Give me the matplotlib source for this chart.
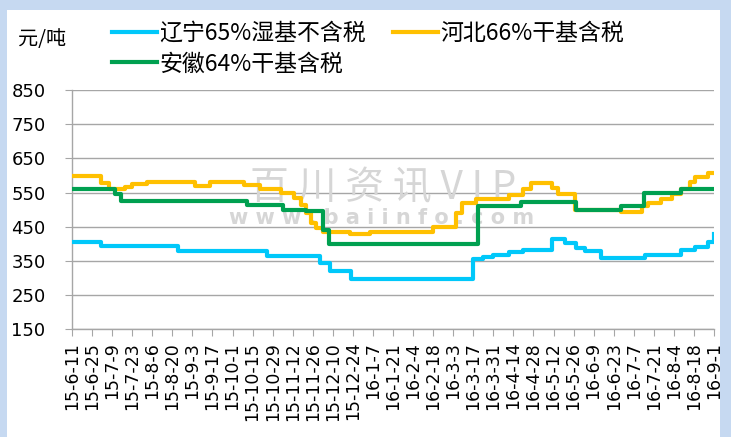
import datetime as dt
import matplotlib
matplotlib.use('Agg')
import matplotlib.pyplot as plt
from matplotlib.patches import Rectangle

# weekly price change points (date, yuan/ton)
liaoning_dates = ['2015-06-11', '2015-07-01', '2015-08-24', '2015-10-25', '2015-12-01',
                  '2015-12-08', '2015-12-23', '2016-03-17', '2016-03-24', '2016-03-31',
                  '2016-04-11', '2016-04-21', '2016-05-11', '2016-05-20', '2016-05-28',
                  '2016-06-03', '2016-06-14', '2016-07-15', '2016-08-09', '2016-08-19',
                  '2016-08-28', '2016-09-01']
liaoning_vals = [405, 395, 380, 363, 345, 320, 296, 355, 362, 368,
                 376, 383, 413, 403, 388, 378, 360, 366, 381, 391,
                 405, 430]

hebei_dates = ['2015-06-11', '2015-07-01', '2015-07-07', '2015-07-18', '2015-07-23',
               '2015-08-02', '2015-09-05', '2015-09-15', '2015-10-09', '2015-10-20',
               '2015-11-04', '2015-11-13', '2015-11-18', '2015-11-21', '2015-11-25',
               '2015-11-28', '2015-12-03', '2015-12-22', '2016-01-05', '2016-02-18',
               '2016-03-05', '2016-03-09', '2016-03-19', '2016-04-11', '2016-04-21',
               '2016-04-26', '2016-05-11', '2016-05-15', '2016-05-27', '2016-06-28',
               '2016-07-13', '2016-07-17', '2016-07-26', '2016-08-03', '2016-08-09',
               '2016-08-15', '2016-08-19', '2016-08-28', '2016-09-01']
hebei_vals = [597, 577, 560, 567, 575, 582, 568, 580, 572, 560,
              550, 535, 515, 490, 460, 445, 435, 428, 435, 450,
              490, 518, 530, 542, 560, 578, 562, 547, 500, 493,
              510, 520, 532, 545, 560, 580, 595, 608, 608]

anhui_dates = ['2015-06-11', '2015-07-11', '2015-07-15', '2015-10-11', '2015-11-05',
               '2015-11-21', '2015-12-03', '2015-12-07', '2016-03-20', '2016-04-19',
               '2016-05-28', '2016-06-28', '2016-07-14', '2016-08-09', '2016-09-01']
anhui_vals = [560, 545, 525, 515, 500, 495, 440, 400, 512, 522,
              500, 510, 548, 560, 560]

series_names = ['辽宁65%湿基不含税', '河北66%干基含税', '安徽64%干基含税']

xtick_labels = ['15-6-11', '15-6-25', '15-7-9', '15-7-23', '15-8-6', '15-8-20', '15-9-3',
                '15-9-17', '15-10-1', '15-10-15', '15-10-29', '15-11-12', '15-11-26',
                '15-12-10', '15-12-24', '16-1-7', '16-1-21', '16-2-4', '16-2-18', '16-3-3',
                '16-3-17', '16-3-31', '16-4-14', '16-4-28', '16-5-12', '16-5-26', '16-6-9',
                '16-6-23', '16-7-7', '16-7-21', '16-8-4', '16-8-18', '16-9-1']
ytick_vals = [150, 250, 350, 450, 550, 650, 750, 850]


def to_dates(strings):
    return [dt.datetime.strptime(s, '%Y-%m-%d') for s in strings]


cjk = ['Noto Sans CJK SC', 'DejaVu Sans']
W, H = 731, 437

fig = plt.figure(figsize=(W / 100, H / 100), dpi=100, facecolor='#C6D9F1')
fig.add_artist(Rectangle((7 / W, 0), 713 / W, 427 / H, transform=fig.transFigure,
                         facecolor='white', edgecolor='none', zorder=-5))

ax = fig.add_axes([72 / W, 1 - 329.3 / H, 642 / W, 239.3 / H])
ax.set_facecolor('white')

# watermark
ax.text(0.484, 0.59, '百 川 资 讯 V I P', transform=ax.transAxes, ha='center', va='center',
        fontsize=28, color='#d6d6d6', family=cjk, zorder=1)
ax.text(0.482, 0.465, 'w w w . b a i i n f o . c o m', transform=ax.transAxes,
        ha='center', va='center', fontsize=15, color='#d6d6d6', fontweight='bold', zorder=1)

l_blue, = ax.plot(to_dates(liaoning_dates), liaoning_vals, drawstyle='steps-post',
                  color='#00C8FA', lw=3, label=series_names[0], zorder=3)
l_yellow, = ax.plot(to_dates(hebei_dates), hebei_vals, drawstyle='steps-post',
                    color='#FFC000', lw=3, label=series_names[1], zorder=3)
l_green, = ax.plot(to_dates(anhui_dates), anhui_vals, drawstyle='steps-post',
                   color='#00A050', lw=3, label=series_names[2], zorder=3)

tick_dates = [dt.datetime.strptime('20' + s, '%Y-%m-%d') for s in xtick_labels]
ax.set_xlim(tick_dates[0], tick_dates[-1])
ax.set_xticks(tick_dates)
ax.set_xticklabels(xtick_labels, rotation=90, fontsize=12.5)
ax.set_ylim(150, 850)
ax.set_yticks(ytick_vals)
ax.set_yticklabels([str(v) for v in ytick_vals], fontsize=13)

grid_col = '#A6A6A6'
ax.grid(axis='y', color=grid_col, lw=1.0)
ax.set_axisbelow(True)
for side in ['top', 'right']:
    ax.spines[side].set_visible(False)
for side in ['left', 'bottom']:
    ax.spines[side].set_color(grid_col)
    ax.spines[side].set_linewidth(1.0)
ax.tick_params(axis='y', direction='out', length=5, color=grid_col, pad=14)
ax.tick_params(axis='x', direction='out', length=5, color=grid_col, pad=4)

fig.text(18 / W, 1 - 39 / H, '元/吨', fontsize=14.5, family=cjk, va='center', ha='left')

fig.legend(handles=[l_blue, l_green, l_yellow], loc='upper left',
           bbox_to_anchor=(112 / W, 1 - 22 / H), ncol=2, frameon=False,
           prop={'family': cjk, 'size': 16.5}, handlelength=1.95, handletextpad=0.1,
           columnspacing=1.2, labelspacing=0.32, borderpad=0, borderaxespad=0)

fig.savefig('out.png', dpi=100, facecolor=fig.get_facecolor())
